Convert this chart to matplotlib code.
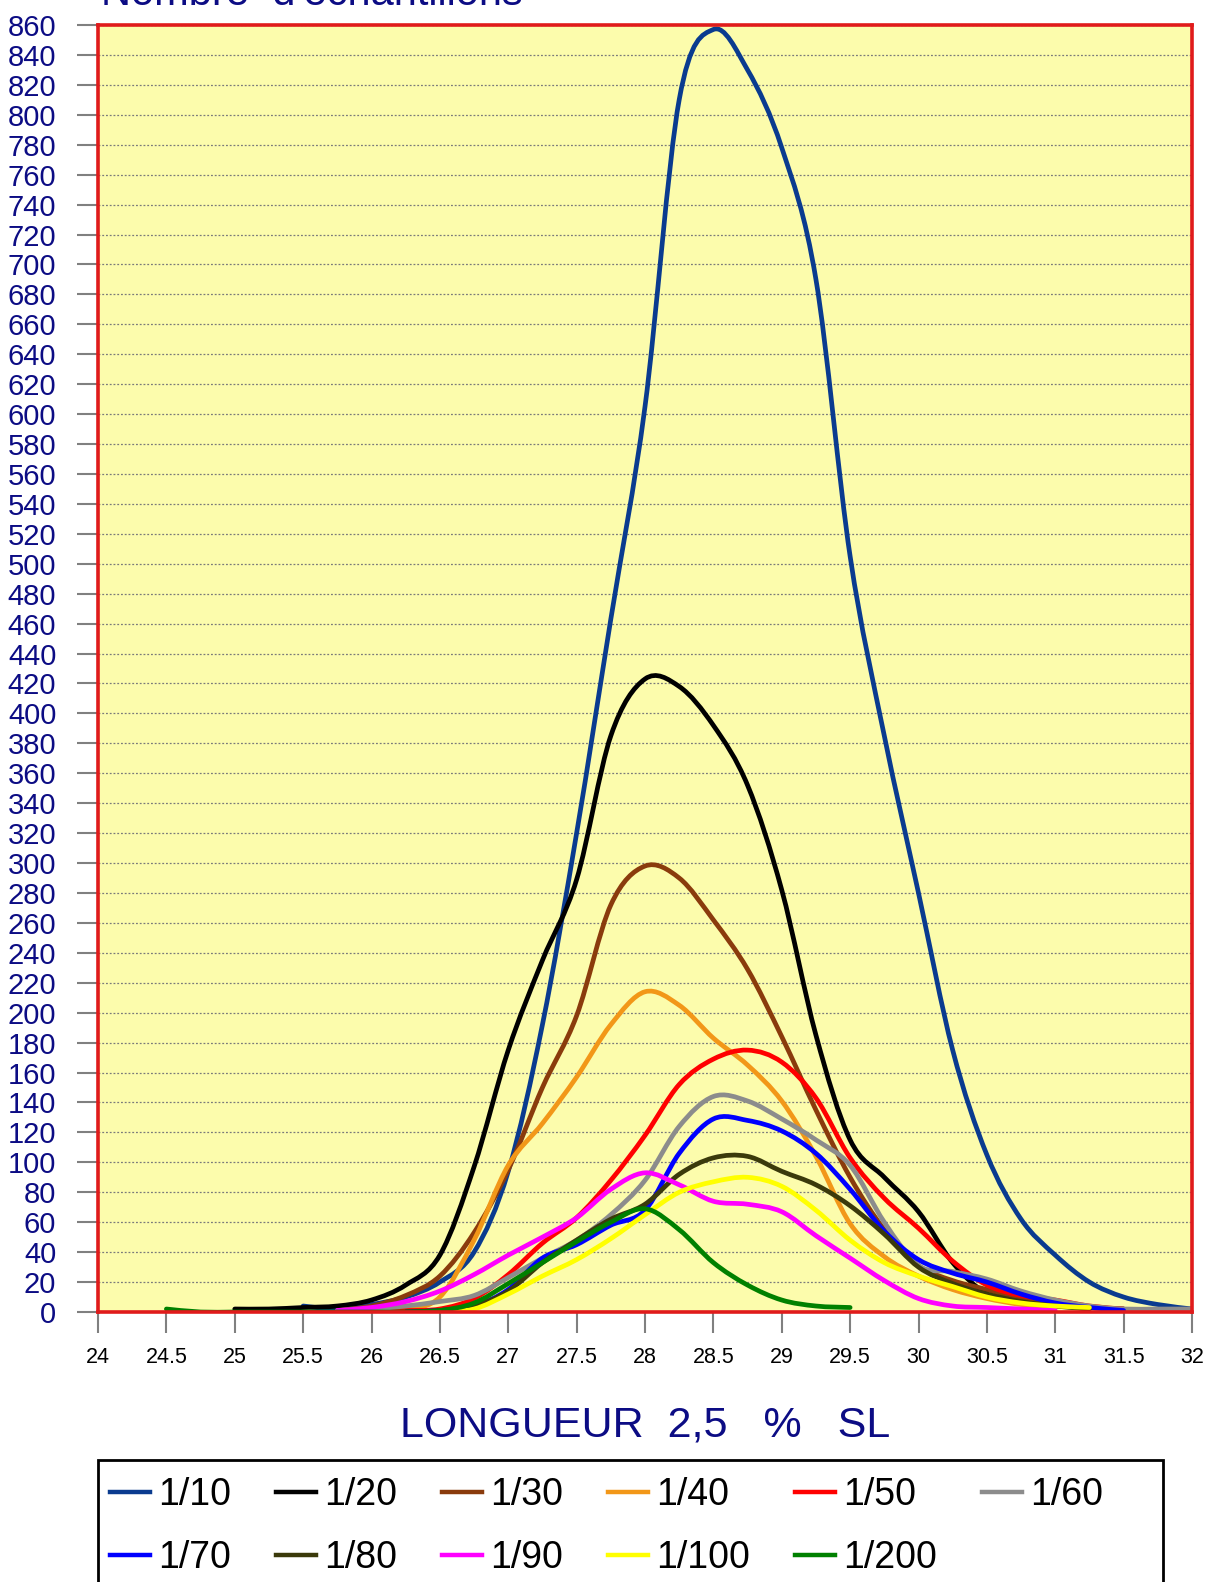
import numpy as np
import matplotlib
matplotlib.use("Agg")
import matplotlib.pyplot as plt
from matplotlib.path import Path
from matplotlib.patches import PathPatch, Rectangle
from matplotlib.lines import Line2D

# series labels / colours
labels = ['1/10', '1/20', '1/30', '1/40', '1/50', '1/60',
          '1/70', '1/80', '1/90', '1/100', '1/200']
colors = ['#0a3b8f', '#000000', '#8a3b0c', '#f29718', '#ff0000', '#8c8c8c',
          '#0000ff', '#3b3a0b', '#ff00ff', '#ffff00', '#008000']

# first length of each series, values every 0.25
starts = [25.5, 25.0, 25.75, 26.0, 26.0, 25.75, 26.25, 26.25, 25.75, 26.5, 24.5]
step = 0.25

s_10 = [4, 2, 5, 10, 20, 40, 94, 192, 320, 463, 605, 810, 857, 830, 778, 690,
        505, 385, 280, 175, 105, 62, 38, 20, 10, 5, 2]
s_20 = [2, 2, 3, 4, 8, 18, 38, 97, 175, 235, 289, 385, 423, 418, 392, 352, 282,
        185, 115, 90, 67, 33, 12, 6, 4, 3, 2]
s_30 = [1, 4, 11, 24, 53, 95, 150, 198, 272, 298, 290, 262, 229, 184, 135, 90,
        55, 31, 21, 15, 9, 5, 2]
s_40 = [1, 2, 10, 48, 98, 126, 157, 192, 214, 205, 183, 165, 141, 104, 59, 37,
        24, 15, 9, 5, 3]
s_50 = [1, 1, 2, 9, 25, 46, 63, 88, 118, 152, 169, 175, 167, 143, 103, 76, 56,
        34, 18, 11, 8, 4, 2]
s_60 = [1, 2, 4, 7, 11, 23, 36, 48, 65, 88, 124, 144, 141, 129, 115, 98, 60, 31,
        27, 22, 14, 8, 4, 2, 2, 2]
s_70 = [0, 1, 4, 15, 36, 45, 58, 68, 106, 129, 128, 121, 106, 82, 54, 35, 26, 20,
        12, 6, 3, 1]
s_80 = [0, 1, 4, 14, 33, 48, 62, 72, 92, 103, 104, 94, 85, 71, 52, 30, 19, 12, 7,
        4, 2]
s_90 = [1, 3, 7, 14, 25, 38, 50, 63, 82, 93, 85, 74, 72, 67, 51, 36, 21, 9, 4, 3,
        2, 1]
s_100 = [0, 2, 12, 24, 35, 49, 65, 80, 87, 90, 84, 68, 48, 33, 24, 17, 10, 6, 4, 3]
s_200 = [2, 0, 0, 0, 0, 0, 0, 0, 1, 6, 19, 33, 47, 60, 69, 55, 33, 18, 8, 4, 3]

series = [s_10, s_20, s_30, s_40, s_50, s_60, s_70, s_80, s_90, s_100, s_200]

x_ticks = [24, 24.5, 25, 25.5, 26, 26.5, 27, 27.5, 28, 28.5, 29, 29.5, 30,
           30.5, 31, 31.5, 32]
x_ticklabels = ['24', '24.5', '25', '25.5', '26', '26.5', '27', '27.5', '28',
                '28.5', '29', '29.5', '30', '30.5', '31', '31.5', '32']
y_ticks = list(range(0, 861, 20))

plt.rcParams['font.family'] = ['Liberation Sans', 'DejaVu Sans']

NAVY = '#0c0c84'
RED = '#e01b1b'
W, H = 1207, 1582


def smooth_path(xs, ys):
    # Catmull-Rom style smoothed line, like a spreadsheet "smoothed line"
    pts = np.column_stack([xs, ys]).astype(float)
    n = len(pts)
    verts = [pts[0]]
    codes = [Path.MOVETO]
    for i in range(n - 1):
        p0 = pts[i - 1] if i > 0 else pts[i]
        p1 = pts[i]
        p2 = pts[i + 1]
        p3 = pts[i + 2] if i + 2 < n else pts[i + 1]
        verts += [p1 + (p2 - p0) / 6.0, p2 - (p3 - p1) / 6.0, p2]
        codes += [Path.CURVE4] * 3
    return Path(verts, codes)


fig = plt.figure(figsize=(12.07, 15.82), dpi=100)
ax = fig.add_axes([98 / W, 1 - 1312 / H, 1094 / W, 1287 / H])
ax.set_facecolor('#fcfcac')

for vals, x0, col in zip(series, starts, colors):
    xs = x0 + step * np.arange(len(vals))
    patch = PathPatch(smooth_path(xs, vals), fill=False, edgecolor=col,
                      lw=3.4, capstyle='round', joinstyle='round', zorder=3)
    ax.add_patch(patch)

ax.set_xlim(24, 32)
ax.set_ylim(0, 860)

ax.set_yticks(y_ticks)
ax.set_yticklabels([str(v) for v in y_ticks], fontsize=21, color=NAVY)
ax.set_xticks(x_ticks)
ax.set_xticklabels(x_ticklabels, fontsize=15.5, color='black')
ax.tick_params(axis='y', length=15, width=1.5, color='#808080', pad=15)
ax.tick_params(axis='x', length=15, width=1.5, color='#808080', pad=10)

ax.yaxis.grid(True, linestyle=(0, (1.5, 1.5)), color='#7a7a7a', lw=0.9, zorder=1)
ax.set_axisbelow(True)
for sp in ax.spines.values():
    sp.set_color(RED)
    sp.set_linewidth(2.6)
    sp.set_zorder(5)

# titles
fig.text(101 / W, 1 - 5 / H, "Nombre  d'échantillons", fontsize=30,
         color=NAVY, ha='left', va='baseline')
fig.text(645 / W, 1 - 1425 / H, 'LONGUEUR  2,5   %   SL', fontsize=31,
         color=NAVY, ha='center', va='center')

# legend box (runs off the bottom of the picture)
fig.patches.append(Rectangle((98 / W, -0.05), 1065 / W, 0.05 + 1 - 1460 / H,
                             transform=fig.transFigure, fill=False,
                             edgecolor='black', lw=2.0))

# legend, filled column by column so rows read 1/10..1/60 then 1/70..1/200
order = [0, 6, 1, 7, 2, 8, 3, 9, 4, 10, 5]
handles = [Line2D([], [], color=colors[i], lw=3.2) for i in order]
leg = fig.legend(handles, [labels[i] for i in order], ncol=6, loc='upper left',
                 bbox_to_anchor=(110 / W, 1 - 1477 / H), frameon=False,
                 fontsize=27, borderpad=0, labelspacing=0.72,
                 handlelength=1.07, handletextpad=0.21, columnspacing=1.2,
                 borderaxespad=0)

fig.savefig('out.png', dpi=100, facecolor='white')
